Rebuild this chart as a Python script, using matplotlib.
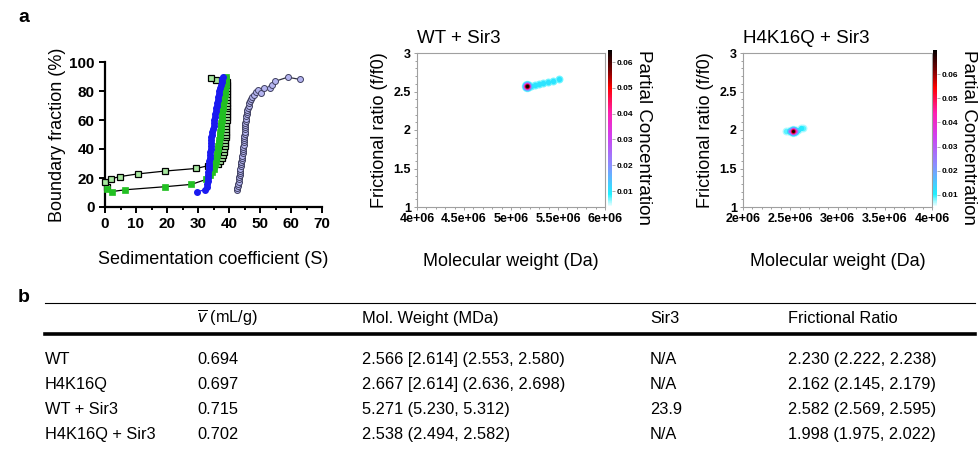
import numpy as np
import matplotlib
matplotlib.use("Agg")
import matplotlib.pyplot as plt
from matplotlib.colors import LinearSegmentedColormap, Normalize
from matplotlib.ticker import MultipleLocator, FuncFormatter
from matplotlib.lines import Line2D
from matplotlib.cm import ScalarMappable

plt.rcParams['font.family'] = ['Liberation Sans', 'DejaVu Sans']
plt.rcParams['mathtext.fontset'] = 'custom'
plt.rcParams['mathtext.rm'] = 'Liberation Sans'
plt.rcParams['mathtext.it'] = 'Liberation Sans:italic'

W, H = 980, 470

# ---- panel a, left: boundary fraction vs sedimentation coefficient
# light green open squares
sq_open_s = [0.5, 0.0, 2.0, 4.9, 10.5, 19.4, 29.5, 33.3,
             36.6, 37.2, 37.7, 38.0, 38.3, 38.5, 38.6, 38.7, 38.8, 38.9,
             38.9, 39.0, 39.0, 39.1, 39.1, 39.2, 39.2, 39.2, 39.2, 39.2,
             39.3, 39.3, 39.3, 39.4, 39.4, 39.4, 39.5, 39.5, 39.5,
             38.6, 35.9, 34.1]
sq_open_f = [14.0, 17.5, 19.5, 21.0, 22.8, 24.8, 26.6, 28.5,
             30, 32, 34, 36, 38, 40, 42, 44, 46, 48,
             50, 52, 54, 56, 58, 60, 62, 64, 66, 68,
             70, 72, 74, 76, 78, 80, 82, 84, 86,
             88.0, 87.5, 89.3]

# green filled squares
sq_green_s = [0.7, 2.1, 6.6, 19.4, 27.9, 32.6,
              34.0, 34.5, 35.0, 35.3, 35.5, 35.7, 35.9, 36.0, 36.2, 36.4,
              36.6, 36.8, 36.9, 37.0, 37.1, 37.2, 37.3, 37.4, 37.5, 37.6,
              37.7, 37.8, 37.9, 38.0, 38.1, 38.2, 38.3, 38.5, 38.6, 38.7,
              38.8, 38.9, 38.9, 39.0, 39.0]
sq_green_f = [12.5, 10.6, 11.9, 14.0, 15.6, 19.0,
              22, 24, 26, 28, 30, 32, 34, 36, 38, 40,
              42, 44, 46, 48, 50, 52, 54, 56, 58, 60,
              62, 64, 66, 68, 70, 72, 74, 76, 78, 80,
              82, 84, 86, 88, 90]

# blue filled circles
blue_s = [29.6, 32.2, 32.8, 33.0, 33.1, 33.2, 33.25, 33.3, 33.4, 33.5,
          33.6, 33.7, 33.8, 33.9, 34.0, 34.1, 34.2, 34.25, 34.3, 34.35,
          34.4, 34.6, 34.8, 35.0, 35.2, 35.3, 35.4, 35.6, 35.8, 35.9,
          36.0, 36.2, 36.3, 36.5, 36.7, 36.9, 37.1, 37.3, 37.6, 37.9,
          38.2]
blue_f = [10.3, 12, 14, 16, 18, 20, 22, 24, 26, 28,
          30, 32, 34, 36, 38, 40, 42, 44, 46, 48,
          50, 52, 54, 56, 58, 60, 62, 64, 66, 68,
          70, 72, 74, 76, 78, 80, 82, 84, 86, 88,
          89.5]

# lavender circles
lav_s = [42.5, 42.7, 42.9, 43.0, 43.1, 43.2, 43.3, 43.4, 43.5, 43.6,
         43.7, 43.8, 43.9, 44.0, 44.1, 44.2, 44.3, 44.4, 44.5, 44.6,
         44.6, 44.7, 44.8, 44.8, 44.9, 44.9, 45.0, 45.0, 45.1, 45.1,
         45.2, 45.3, 45.4, 45.5, 45.6, 45.7, 45.8, 45.9, 46.1, 46.3,
         46.5, 46.8, 47.1, 47.5,
         48.0, 48.7, 49.3, 50.4, 51.3, 53.3, 53.9, 54.9, 58.9, 62.9]
lav_f = [11.5, 13, 14.5, 16, 17.5, 19, 20.5, 22, 23.5, 25,
         26.5, 28, 29.5, 31, 32.5, 34, 35.5, 37, 38.5, 40,
         41.5, 43, 44.5, 46, 47.5, 49, 50.5, 52, 53.5, 55,
         56.5, 58, 59.5, 61, 62.5, 64, 65.5, 67, 68.5, 70,
         71.5, 73, 74.5, 76,
         77.5, 79.5, 81.0, 78.5, 82.0, 82.0, 84.0, 86.7, 89.5, 88.0]

# ---- panel a, 2DSA spots (MW, f/f0, partial concentration)
wt_mw = [5.17e6, 5.215e6, 5.255e6, 5.30e6, 5.34e6, 5.39e6, 5.45e6, 5.51e6]
wt_ff = [2.565, 2.575, 2.585, 2.595, 2.605, 2.62, 2.635, 2.66]
wt_conc = [0.064, 0.010, 0.010, 0.010, 0.010, 0.010, 0.010, 0.010]

k16_mw = [2.46e6, 2.50e6, 2.53e6, 2.555e6, 2.585e6, 2.615e6, 2.64e6]
k16_ff = [1.99, 1.988, 1.985, 1.99, 2.005, 2.02, 2.025]
k16_conc = [0.009, 0.030, 0.068, 0.040, 0.012, 0.011, 0.009]

# ---- panel b, table
col_heads = ['', r'$\overline{v}$ (mL/g)', 'Mol. Weight (MDa)', 'Sir3', 'Frictional Ratio']
samples = ['WT', 'H4K16Q', 'WT + Sir3', 'H4K16Q + Sir3']
vbar = ['0.694', '0.697', '0.715', '0.702']
mol_weight = ['2.566 [2.614] (2.553, 2.580)', '2.667 [2.614] (2.636, 2.698)',
              '5.271 (5.230, 5.312)', '2.538 (2.494, 2.582)']
sir3 = ['N/A', 'N/A', '23.9', 'N/A']
fric_ratio = ['2.230 (2.222, 2.238)', '2.162 (2.145, 2.179)',
              '2.582 (2.569, 2.595)', '1.998 (1.975, 2.022)']

cmap = LinearSegmentedColormap.from_list('conc', [
    (0.0, '#ffffff'), (0.08, '#20f0ff'), (0.27, '#8c8cff'), (0.45, '#d040f0'),
    (0.6, '#ff20b0'), (0.76, '#ff0000'), (0.88, '#700000'), (1.0, '#000000')])
LEVELS = [0.007, 0.012, 0.02, 0.03, 0.045, 0.058]


def fig_rect(x0, y0, x1, y1):
    return [x0 / W, 1 - y1 / H, (x1 - x0) / W, (y1 - y0) / H]


def draw_spots(ax, mw, ff, conc, norm):
    pts = []
    for x, y, c in zip(mw, ff, conc):
        layers = [l for l in LEVELS if l < c] + [c]
        n = len(layers)
        outer = 6.5 + 0.7 * n
        step = min(2.5, (outer - 3) / max(n - 1, 1))
        for i, lv in enumerate(layers):
            pts.append((lv, x, y, outer - i * step))
    pts.sort()
    for lv, x, y, d in pts:
        ax.scatter(x, y, s=(d * 0.72) ** 2, color=cmap(norm(lv)), lw=0, zorder=3)


def conc_panel(rect, cb_rect, title, xlim, xticks, vmin, vmax, mw, ff, conc, lab_x):
    ax = fig.add_axes(fig_rect(*rect))
    ax.set_xlim(*xlim)
    ax.set_ylim(1, 3)
    ax.set_xticks(xticks)
    ax.xaxis.set_major_formatter(FuncFormatter(lambda v, p: format(v, 'g')))
    ax.set_yticks([1, 1.5, 2, 2.5, 3])
    ax.yaxis.set_major_formatter(FuncFormatter(lambda v, p: format(v, 'g')))
    ax.yaxis.set_minor_locator(MultipleLocator(0.1))
    ax.xaxis.set_minor_locator(MultipleLocator(1e5))
    for sp in ax.spines.values():
        sp.set_color('#a0a0a0')
        sp.set_linewidth(0.8)
    ax.tick_params(which='both', colors='#a0a0a0', labelcolor='black', labelsize=9,
                   length=2.5, width=0.7, pad=2)
    ax.tick_params(which='minor', length=1.5)
    for t in ax.get_xticklabels() + ax.get_yticklabels():
        t.set_fontweight('bold')
    ax.set_title(title, loc='left', fontsize=13.5, pad=7)
    ax.set_xlabel('Molecular weight (Da)', fontsize=13)
    ax.xaxis.set_label_coords(0.5, -0.30)
    ax.set_ylabel('Frictional ratio (f/f0)', fontsize=13, va='center')
    ax.yaxis.set_label_coords(lab_x, 0.5)
    norm = Normalize(vmin, vmax)
    draw_spots(ax, mw, ff, conc, norm)

    cax = fig.add_axes(fig_rect(*cb_rect))
    cb = fig.colorbar(ScalarMappable(norm=norm, cmap=cmap), cax=cax)
    cb.outline.set_visible(False)
    cb.set_ticks([0.01, 0.02, 0.03, 0.04, 0.05, 0.06])
    cb.ax.yaxis.set_major_formatter(FuncFormatter(lambda v, p: format(v, 'g')))
    cb.ax.tick_params(labelsize=6, length=2, width=0.6, colors='#a0a0a0',
                      labelcolor='black', pad=1.5)
    for t in cb.ax.get_yticklabels():
        t.set_fontweight('bold')
    fig.text((cb_rect[2] + 31) / W, 1 - 137 / H, 'Partial Concentration', rotation=-90,
             ha='center', va='center', fontsize=13.5)
    return ax


fig = plt.figure(figsize=(9.8, 4.7), dpi=100)

# left plot
ax1 = fig.add_axes(fig_rect(105, 62, 322, 207))
ax1.plot(sq_open_s, sq_open_f, color='black', lw=0.9, marker='s', ms=4.3,
         mfc='#a8e8a0', mec='black', mew=0.9, clip_on=False, zorder=3)
ax1.plot(sq_green_s, sq_green_f, color='black', lw=0.9, marker='s', ms=4,
         mfc='#22c022', mec='#22c022', mew=0.5, clip_on=False, zorder=4)
ax1.plot(blue_s, blue_f, color='#1a1af0', lw=0.9, marker='o', ms=4,
         mfc='#1a1af0', mec='#1a1af0', clip_on=False, zorder=5)
ax1.plot(lav_s, lav_f, color='#303040', lw=0.9, marker='o', ms=4.3,
         mfc='#b4b4f0', mec='#404060', mew=0.7, clip_on=False, zorder=5)
ax1.set_xlim(0, 70)
ax1.set_ylim(0, 100)
ax1.set_xticks(range(0, 71, 10))
ax1.xaxis.set_minor_locator(MultipleLocator(5))
ax1.set_yticks(range(0, 101, 20))
for sp in ['top', 'right']:
    ax1.spines[sp].set_visible(False)
for sp in ['left', 'bottom']:
    ax1.spines[sp].set_linewidth(1.6)
ax1.tick_params(which='both', width=1.4, length=4, labelsize=11)
ax1.tick_params(which='minor', length=2.5)
for t in ax1.get_xticklabels() + ax1.get_yticklabels():
    t.set_fontweight('bold')
ax1.set_xlabel('Sedimentation coefficient (S)', fontsize=13)
ax1.xaxis.set_label_coords(0.5, -0.30)
ax1.set_ylabel('Boundary fraction (%)', fontsize=13, va='center')
ax1.yaxis.set_label_coords(-0.22, 0.5)

conc_panel((417, 53, 605, 207), (608, 50, 612, 207), 'WT + Sir3', (4e6, 6e6),
           [4e6, 4.5e6, 5e6, 5.5e6, 6e6], 0.0038, 0.0647,
           wt_mw, wt_ff, wt_conc, -0.197)
conc_panel((743, 53, 932, 207), (933, 50, 937, 207), 'H4K16Q + Sir3', (2e6, 4e6),
           [2e6, 2.5e6, 3e6, 3.5e6, 4e6], 0.005, 0.070,
           k16_mw, k16_ff, k16_conc, -0.201)

fig.text(18 / W, 1 - 18 / H, 'a', fontsize=14, fontweight='bold', va='center')
fig.text(18 / W, 1 - 297 / H, 'b', fontsize=14, fontweight='bold', va='center')

# table
col_x = [45, 197, 362, 650, 788]
fig.add_artist(Line2D([45 / W, 975 / W], [1 - 303 / H] * 2, color='black', lw=0.8))
fig.add_artist(Line2D([45 / W, 975 / W], [1 - 334 / H] * 2, color='black', lw=2.6))
for x, txt in zip(col_x, col_heads):
    fig.text(x / W, 1 - 323 / H, txt, fontsize=11.8, va='baseline')
row_y = [359, 384, 409, 434]
for i, y in enumerate(row_y):
    cells = [samples[i], vbar[i], mol_weight[i], sir3[i], fric_ratio[i]]
    for x, txt in zip(col_x, cells):
        fig.text(x / W, 1 - (y + 5) / H, txt, fontsize=11.8, va='baseline')

fig.savefig('out.png', dpi=100)
